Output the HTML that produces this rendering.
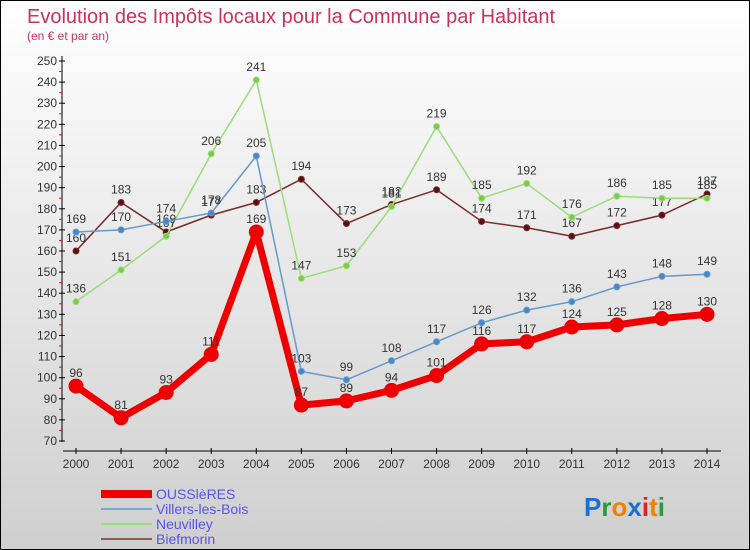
<!DOCTYPE html>
<html><head><meta charset="utf-8"><style>
body{margin:0}
#c{width:750px;height:550px;position:relative;box-sizing:border-box;border:1px solid #000;background:linear-gradient(#fff,#cfcfcf);font-family:"Liberation Sans",sans-serif;overflow:hidden}
</style></head><body>
<div id="c">
<svg id="s" width="750" height="550" style="position:absolute;left:0;top:0">
<text x="26" y="22" font-size="20" fill="#c8325f">Evolution des Impôts locaux pour la Commune par Habitant</text>
<text x="26" y="39" font-size="12" fill="#c8325f">(en € et par an)</text>
<g id="axes"></g><g id="series"></g><g id="legend"></g>
<text x="583" y="515" font-size="26" font-weight="bold"><tspan fill="#1a6fd0">P</tspan><tspan fill="#2a9a3a">r</tspan><tspan fill="#f08000">o</tspan><tspan fill="#1a6fd0">x</tspan><tspan fill="#e02020">i</tspan><tspan fill="#f08000">t</tspan><tspan fill="#2a9a3a">i</tspan></text>
</svg>
</div>
<script>
const years=[2000,2001,2002,2003,2004,2005,2006,2007,2008,2009,2010,2011,2012,2013,2014];
const ouss=[96,81,93,111,169,87,89,94,101,116,117,124,125,128,130];
const villers=[169,170,174,178,205,103,99,108,117,126,132,136,143,148,149];
const neuvilley=[136,151,167,206,241,147,153,181,219,185,192,176,186,185,185];
const biefmorin=[160,183,169,177,183,194,173,182,189,174,171,167,172,177,187];
const yTicks=[70,80,90,100,110,120,130,140,150,160,170,180,190,200,210,220,230,240,250];
const NS="http://www.w3.org/2000/svg";
function X(i){return 75+i*(706-75)/14}
function Y(v){return 440-(v-70)*(380/180)}
function mk(t,a,p){const e=document.createElementNS(NS,t);for(const k in a)e.setAttribute(k,a[k]);p.appendChild(e);return e}
const ax=document.getElementById('axes');
let l=mk('line',{x1:61,y1:55,x2:61,y2:441,stroke:'#000'},ax);


l=mk('line',{x1:62,y1:450,x2:720,y2:450,stroke:'#000'},ax);


yTicks.forEach(v=>{
 mk('line',{x1:58,x2:64,y1:Y(v),y2:Y(v),stroke:'#000'},ax);
 if(v<250)mk('line',{x1:58,x2:61,y1:Y(v+5),y2:Y(v+5),stroke:'#f00'},ax);
 const t=mk('text',{x:56,y:Y(v)+4,'text-anchor':'end','font-size':12,fill:'#333'},ax);
 t.textContent=v;
 
 
});
years.forEach((y,i)=>{
 mk('line',{x1:X(i),x2:X(i),y1:447,y2:453,stroke:'#000'},ax);
 const t=mk('text',{x:X(i),y:467,'text-anchor':'middle','font-size':12,fill:'#333'},ax);
 t.textContent=y;
 
 
});
const sg=document.getElementById('series');
function draw(data,color,w,r,name,dot,lbl){
 const g=mk('g',{},sg);
 
 
 mk('polyline',{points:data.map((v,i)=>X(i)+','+Y(v)).join(' '),fill:'none',stroke:color,'stroke-width':w,'stroke-linejoin':'round'},g);
 data.forEach((v,i)=>{
  const c=mk('circle',{cx:X(i),cy:Y(v),r:r,fill:dot,stroke:color,'stroke-width':1},g);
  
  
  const t=mk('text',{x:X(i),y:Y(v)-9,'text-anchor':'middle','font-size':12,fill:'#333'},g);
  t.textContent=v;
  
  
 });
}
draw(biefmorin,'#7a2a2a',1.5,3,'biefmorin','#5a1010');
draw(neuvilley,'#99dd77',1.5,3,'neuvilley','#77cc44');
draw(villers,'#6699cc',1.5,3,'villers','#4488cc');
draw(ouss,'#ee0000',7,7,'oussieres','#ee0000');
const lg=document.getElementById('legend');
const leg=[['OUSSlèRES','#ee0000',8],['Villers-les-Bois','#7aaad0',2],['Neuvilley','#99dd77',2],['Biefmorin','#8a5a5a',2]];
leg.forEach((e,i)=>{
 const y=493+i*15;
 const ln=mk('line',{x1:100,x2:151,y1:y,y2:y,stroke:e[1],'stroke-width':e[2]},lg);
 
 
 const t=mk('text',{x:155,y:y+5,'font-size':14,fill:'#5555ee'},lg);
 t.textContent=e[0];
 
 
});
</script>
</body></html>
